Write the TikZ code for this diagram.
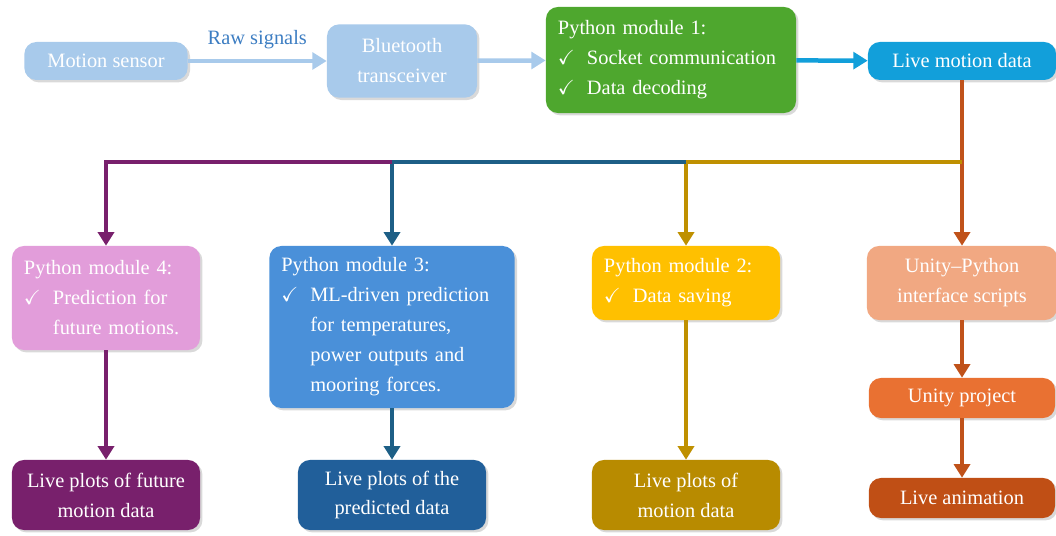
\documentclass[tikz,border=0pt]{standalone}
\usepackage{amssymb}
\usepackage{fontspec}
\setmainfont{Liberation Serif}
\usepackage{tikz}
\usepackage{xcolor}
\usetikzlibrary{arrows.meta, positioning, shadows, calc}
\definecolor{paleBlue}{HTML}{A8CAEB}
\definecolor{rawBlue}{HTML}{3C7DC2}
\definecolor{modGreen}{HTML}{4EA72E}
\definecolor{liveBlue}{HTML}{129FDA}
\definecolor{modPink}{HTML}{E29DDA}
\definecolor{modBlue}{HTML}{4A90D9}
\definecolor{modGold}{HTML}{FFC000}
\definecolor{ifSalmon}{HTML}{F1A882}
\definecolor{unityOrange}{HTML}{E97132}
\definecolor{animRust}{HTML}{C04F15}
\definecolor{plotPurple}{HTML}{78206C}
\definecolor{plotBlue}{HTML}{215F9A}
\definecolor{plotGold}{HTML}{B88B00}
\definecolor{linePurple}{HTML}{78206C}
\definecolor{lineBlue}{HTML}{1D5F86}
\definecolor{lineGold}{HTML}{BF9000}
\definecolor{lineRust}{HTML}{C0521A}
\newcommand{\chkItem}{$\checkmark$\hspace{0.3cm}}
\tikzset{
    flowBox/.style={rectangle, rounded corners=0.3cm, text=white, inner xsep=0.3cm, inner ysep=0pt,
        font=\fontsize{14.5}{21.3}\selectfont, align=center,
        drop shadow={opacity=0.3, shadow xshift=0.06cm, shadow yshift=-0.06cm}},
    listBox/.style={flowBox, align=left},
    flowLine/.style={line width=3.2pt, -{Triangle[length=3.6mm, width=4.2mm]}},
    busLine/.style={line width=2.8pt, -{Triangle[length=3.4mm, width=4mm]}}
}

\begin{document}
\begin{tikzpicture}[x=0.025cm, y=-0.025cm]
    \useasboundingbox (0,0) rectangle (1056,536);
    % top row
    \node[flowBox, fill=paleBlue, minimum width=4.08cm, minimum height=0.95cm] (Sensor) at (106,61) {Motion sensor};
    \node[flowBox, fill=paleBlue, minimum width=3.75cm, minimum height=1.83cm] (Bluetooth) at (402,61) {Bluetooth\\transceiver};
    \node[listBox, fill=modGreen, text width=5.65cm, minimum height=2.65cm] (Mod1) at (671,60)
        {Python module 1:\\\chkItem Socket communication\\\chkItem Data decoding};
    \node[flowBox, fill=liveBlue, minimum width=4.7cm, minimum height=0.95cm] (LiveData) at (962,61) {Live motion data};
    \draw[flowLine, paleBlue] (Sensor) -- (Bluetooth) node[midway, above=0.12cm, text=rawBlue, font=\fontsize{14.5}{17}\selectfont] (RawLbl) {Raw signals};
    \draw[flowLine, paleBlue] (Bluetooth) -- (Mod1);
    \draw[flowLine, liveBlue] (Mod1) -- (LiveData);
    % modules
    \node[listBox, fill=modPink, text width=4.1cm, minimum height=2.6cm] (Mod4) at (106,298)
        {Python module 4:\\\chkItem Prediction for\\\hphantom{\chkItem}future motions.};
    \node[listBox, fill=modBlue, text width=5.53cm, minimum height=4.05cm] (Mod3) at (392,327)
        {Python module 3:\\\chkItem ML-driven prediction\\\hphantom{\chkItem}for temperatures,\\\hphantom{\chkItem}power outputs and\\\hphantom{\chkItem}mooring forces.};
    \node[listBox, fill=modGold, text width=4.1cm, minimum height=1.85cm] (Mod2) at (686,283)
        {Python module 2:\\\chkItem Data saving};
    \node[flowBox, fill=ifSalmon, minimum width=4.75cm, minimum height=1.85cm] (UnityIf) at (962,283) {Unity--Python\\interface scripts};
    \node[flowBox, fill=unityOrange, minimum width=4.65cm, minimum height=1.0cm] (Unity) at (962,398) {Unity project};
    \node[flowBox, fill=animRust, minimum width=4.65cm, minimum height=1.0cm] (Anim) at (962,498) {Live animation};
    % outputs
    \node[flowBox, fill=plotPurple, minimum width=4.7cm, minimum height=1.75cm] (Plot4) at (106,495) {Live plots of future\\motion data};
    \node[flowBox, fill=plotBlue, minimum width=4.7cm, minimum height=1.75cm] (Plot3) at (392,495) {Live plots of the\\predicted data};
    \node[flowBox, fill=plotGold, minimum width=4.7cm, minimum height=1.75cm] (Plot2) at (686,495) {Live plots of\\motion data};
    % bus
    \coordinate (BusR) at (962,162);
    \draw[busLine, lineRust] (LiveData) -- (UnityIf);
    \draw[busLine, lineGold] (BusR) -| (Mod2);
    \draw[busLine, lineBlue] (Mod2 |- BusR) -| (Mod3);
    \draw[busLine, linePurple] (Mod3 |- BusR) -| (Mod4);
    \draw[busLine, linePurple] (Mod4) -- (Plot4);
    \draw[busLine, lineBlue] (Mod3) -- (Plot3);
    \draw[busLine, lineGold] (Mod2) -- (Plot2);
    \draw[busLine, lineRust] (UnityIf) -- (Unity);
    \draw[busLine, lineRust] (Unity) -- (Anim);
\end{tikzpicture}
\end{document}
